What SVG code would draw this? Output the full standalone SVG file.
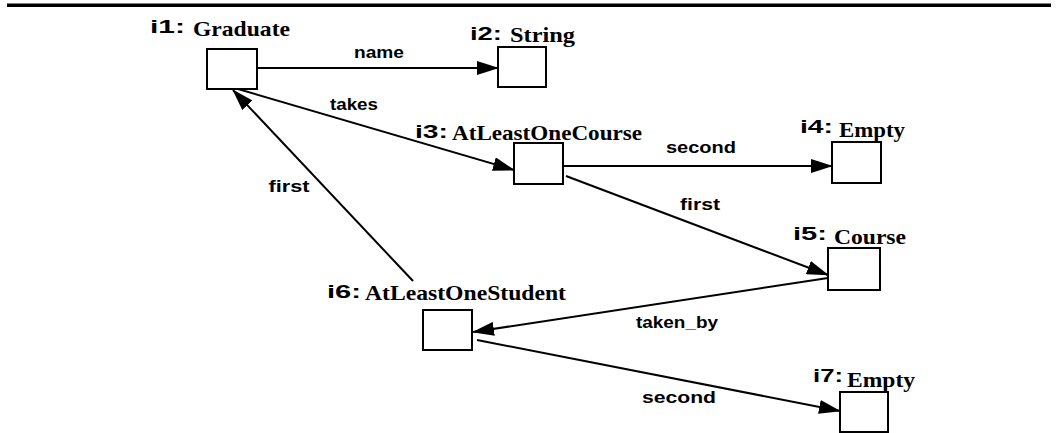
<svg xmlns="http://www.w3.org/2000/svg" width="1058" height="433" viewBox="0 0 1058 433">
<style>
.box{fill:#fff;stroke:#000;stroke-width:2}
.id{font-family:"Liberation Sans",Arial,sans-serif;font-weight:bold;font-size:19px;fill:#000}
.ty{font-family:"Liberation Serif","Times New Roman",serif;font-weight:bold;font-size:22px;fill:#000}
.el{font-family:"Liberation Sans",Arial,sans-serif;font-weight:bold;font-size:16px;fill:#000;text-anchor:middle}
.edge{stroke:#000;stroke-width:2;fill:none;marker-end:url(#arr)}
</style>
<defs>
<marker id="arr" markerUnits="userSpaceOnUse" markerWidth="22" markerHeight="14" refX="21" refY="7" orient="auto">
<path d="M0,0 L22,7 L0,14 z" fill="#000"/>
</marker>
</defs>
<rect x="7" y="3.5" width="1044" height="3.5" fill="#000"/>
<g id="connectors">
<line class="edge" x1="257" y1="68" x2="498" y2="68"/>
<line class="edge" x1="238" y1="89" x2="514" y2="170"/>
<line class="edge" x1="563" y1="166" x2="832" y2="166"/>
<line class="edge" x1="566" y1="176" x2="828" y2="275"/>
<line class="edge" x1="828" y1="278" x2="473" y2="332"/>
<line class="edge" x1="413" y1="281" x2="233" y2="90"/>
<line class="edge" x1="477" y1="340" x2="840" y2="411"/>
<text class="el" x="379" y="58" textLength="50" lengthAdjust="spacingAndGlyphs">name</text>
<text class="el" x="354" y="110" textLength="48" lengthAdjust="spacingAndGlyphs">takes</text>
<text class="el" x="701" y="153" textLength="70" lengthAdjust="spacingAndGlyphs">second</text>
<text class="el" x="700" y="210" textLength="40" lengthAdjust="spacingAndGlyphs">first</text>
<text class="el" x="289" y="192" textLength="41" lengthAdjust="spacingAndGlyphs">first</text>
<text class="el" x="677" y="328" textLength="82" lengthAdjust="spacingAndGlyphs">taken_by</text>
<text class="el" x="679" y="403" textLength="74" lengthAdjust="spacingAndGlyphs">second</text>
</g>
<g id="i1">
<rect class="box" x="207" y="49" width="50" height="40"/>
<text class="id" x="150" y="33" textLength="35" lengthAdjust="spacingAndGlyphs">i1:</text>
<text class="ty" x="193" y="36" textLength="97" lengthAdjust="spacingAndGlyphs">Graduate</text>
</g>
<g id="i2">
<rect class="box" x="498" y="47" width="48" height="40"/>
<text class="id" x="470" y="40" textLength="32" lengthAdjust="spacingAndGlyphs">i2:</text>
<text class="ty" x="510" y="42" textLength="65" lengthAdjust="spacingAndGlyphs">String</text>
</g>
<g id="i3">
<rect class="box" x="514" y="143" width="49" height="41"/>
<text class="id" x="415" y="138" textLength="33" lengthAdjust="spacingAndGlyphs">i3:</text>
<text class="ty" x="452" y="140" textLength="190" lengthAdjust="spacingAndGlyphs">AtLeastOneCourse</text>
</g>
<g id="i4">
<rect class="box" x="832" y="142" width="49" height="41"/>
<text class="id" x="800" y="133" textLength="33" lengthAdjust="spacingAndGlyphs">i4:</text>
<text class="ty" x="839" y="137" textLength="66" lengthAdjust="spacingAndGlyphs">Empty</text>
</g>
<g id="i5">
<rect class="box" x="828" y="248" width="52" height="42"/>
<text class="id" x="793" y="240" textLength="34" lengthAdjust="spacingAndGlyphs">i5:</text>
<text class="ty" x="834" y="244" textLength="72" lengthAdjust="spacingAndGlyphs">Course</text>
</g>
<g id="i6">
<rect class="box" x="423" y="310" width="49" height="40"/>
<text class="id" x="327" y="298" textLength="34" lengthAdjust="spacingAndGlyphs">i6:</text>
<text class="ty" x="365" y="300" textLength="201" lengthAdjust="spacingAndGlyphs">AtLeastOneStudent</text>
</g>
<g id="i7">
<rect class="box" x="840" y="392" width="48" height="40"/>
<text class="id" x="813" y="382" textLength="30" lengthAdjust="spacingAndGlyphs">i7:</text>
<text class="ty" x="847" y="387" textLength="68" lengthAdjust="spacingAndGlyphs">Empty</text>
</g>
</svg>
